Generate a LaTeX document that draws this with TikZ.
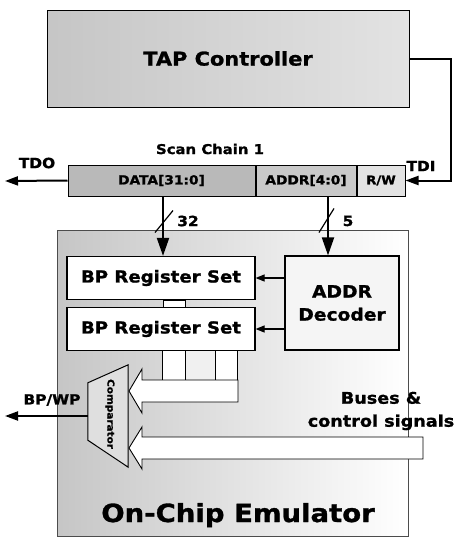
\documentclass[tikz,border=0pt]{standalone}
\usepackage{fontspec}
\setmainfont{DejaVu Sans}[FakeStretch=1.1, BoldFeatures={FakeBold=1.2}]
\usetikzlibrary{arrows.meta,positioning}

\begin{document}
\begin{tikzpicture}[
        x=1pt, y=-1pt,
        every node/.style={font=\bfseries, inner sep=0pt},
        blok/.style={draw, line width=1pt, align=center},
        regset/.style={blok, line width=1.2pt, fill=white, minimum width=188pt, minimum height=43pt, font=\bfseries\fontsize{16.5}{18}\selectfont},
        chain/.style={blok, minimum height=31pt, font=\bfseries\fontsize{12.5}{14}\selectfont},
        lane/.style={draw, line width=0.8pt, fill=white},
        bus/.style={draw, line width=0.9pt, fill=white},
        lbl/.style={font=\bfseries\fontsize{14}{16}\selectfont},
        sig/.style={-{Triangle[length=13pt,width=9pt]}, line width=2pt},
        wide/.style={-{Triangle[length=18pt,width=12pt]}, line width=2pt},
        thin/.style={-{Triangle[length=9pt,width=7pt]}, line width=1.2pt}
    ]
        \useasboundingbox (0,0) rectangle (455,538);

        \node[blok, left color=gray!45, right color=gray!22, minimum width=362pt, minimum height=97pt,
              font=\bfseries\fontsize{19}{21}\selectfont] (tap) at (228,58.5) {TAP Controller};

        \node[chain, fill=gray!55, minimum width=187pt] (data) at (161.5,180.5) {DATA[31:0]};
        \node[chain, fill=gray!42, minimum width=100pt, right=0pt of data] (addr) {ADDR[4:0]};
        \node[chain, fill=gray!22, minimum width=48pt, right=0pt of addr, font=\bfseries\fontsize{12}{13}\selectfont] (rw) {R/W};
        \node[lbl, font=\bfseries\fontsize{13.5}{15}\selectfont] (chain-name) at (210,149) {Scan Chain 1};
        \node[lbl] (tdo) at (37,163) {TDO};
        \node[lbl] (tdi) at (421,166) {TDI};

        \node[draw=black!70, line width=0.6pt, left color=gray!45, middle color=gray!8, right color=white,
              minimum width=351pt, minimum height=306pt] (emu) at (232.5,383) {};

        % bus lanes and block arrows
        \node[lane, minimum width=23pt, minimum height=30pt] (lane1) at (173.5,365) {};
        \node[lane, fill=gray!12, minimum width=30pt, minimum height=30pt] (lane2) at (200,365) {};
        \node[lane, minimum width=22pt, minimum height=30pt] (lane3) at (226,365) {};
        \draw[bus] (238,380) -- (142,380) -- (142,369) -- (129,391) -- (142,413) -- (142,402) -- (238,402) -- cycle;
        \draw[bus] (423,437) -- (142,437) -- (142,427) -- (129,448) -- (142,469) -- (142,459) -- (423,459) -- cycle;

        \node[lane, minimum width=22pt, minimum height=8pt] (link) at (174,304) {};
        \node[regset] (bp1) at (161,278) {BP Register Set};
        \node[regset] (bp2) at (161,329) {BP Register Set};
        \node[blok, line width=1.2pt, fill=gray!8, minimum width=114pt, minimum height=94pt,
              font=\bfseries\fontsize{17}{23}\selectfont] (dec) at (342,303) {ADDR\\Decoder};

        \node[minimum width=40pt, minimum height=102pt] (cmp) at (108,416) {};
        \draw[line width=1pt, fill=gray!25] ([yshift=-18pt]cmp.north west) -- (cmp.north east)
            -- (cmp.south east) -- ([yshift=27pt]cmp.south west) -- cycle;
        \node[rotate=-90, font=\bfseries\fontsize{9.5}{10}\selectfont] (cmp-name) at (110,414) {Comparator};

        \node[lbl] (bpwp) at (52,400) {BP/WP};
        \node[align=center, font=\bfseries\fontsize{16}{23}\selectfont] (buses) at (381,411) {Buses \&\\control signals};
        \node[anchor=base, font=\bfseries\fontsize{25}{28}\selectfont] (emu-name) at (238,522) {On-Chip Emulator};

        % connectors
        \coordinate (tdo-end) at (5,181);
        \coordinate (bpwp-end) at (5,416);
        \draw[sig] (tap.east) -- ++(41,0) |- (rw.east);
        \draw[sig] (data.west) -- (tdo-end);
        \draw[wide] ([xshift=1.5pt]data.south) -- ([xshift=1.5pt]data.south |- bp1.north);
        \draw[wide] ([xshift=22pt]addr.south) -- ([xshift=22pt]addr.south |- dec.north);
        \draw[line width=1.2pt] ([shift={(-6.5,36)}]data.south) -- ++(18,-22);
        \draw[line width=1.2pt] ([shift={(13,36)}]addr.south) -- ++(15,-24);
        \node[lbl] (w32) at (188,221) {32};
        \node[lbl] (w5) at (348,221) {5};
        \draw[thin] (dec.west |- bp1.east) -- (bp1.east);
        \draw[thin] (dec.west |- bp2.east) -- (bp2.east);
        \draw[sig] (cmp.west) -- (bpwp-end);
    \end{tikzpicture}
\end{document}
